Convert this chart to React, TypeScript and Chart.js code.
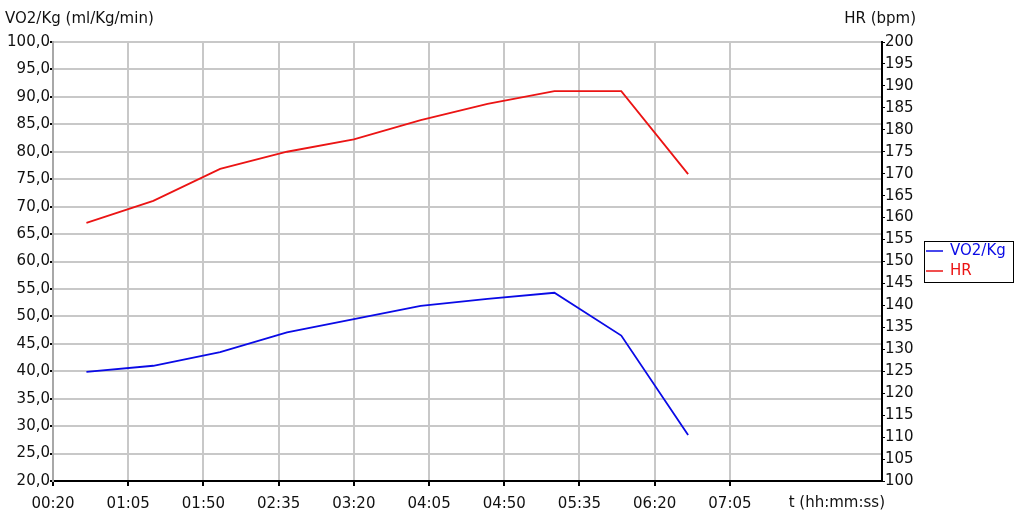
import React, { useEffect, useRef } from "react";
import { Chart, registerables } from "chart.js";

Chart.register(...registerables);

// Data (time in seconds from start)
const timeSeconds = [40, 80, 120, 160, 200, 240, 280, 320, 360, 400];
const vo2Kg = [39.9, 41.0, 43.5, 47.1, 49.5, 51.9, 53.2, 54.3, 46.5, 28.4];
const heartRate = [158.8, 163.8, 171.1, 175.0, 177.8, 182.2, 185.9, 188.8, 188.8, 169.9];
const xTickSeconds = [20, 65, 110, 155, 200, 245, 290, 335, 380, 425];
const xMin = 20;
const xMax = 516;
const seriesNames = ["VO2/Kg", "HR"];
const seriesColors = ["rgb(10,10,230)", "rgb(235,20,20)"];
const leftTitle = "VO2/Kg (ml/Kg/min)";
const rightTitle = "HR (bpm)";
const xTitle = "t (hh:mm:ss)";

const FONT = '"DejaVu Sans", Verdana, sans-serif';

const pad2 = (n: number) => String(n).padStart(2, "0");
const fmtTime = (v: number) => `${pad2(Math.floor(v / 60))}:${pad2(Math.round(v % 60))}`;

const decorPlugin = {
  id: "decor",
  afterDraw(chart: any) {
    const ctx = chart.ctx as CanvasRenderingContext2D;
    ctx.save();
    ctx.font = `15px ${FONT}`;
    ctx.fillStyle = "#111";
    ctx.textBaseline = "middle";
    ctx.textAlign = "left";
    ctx.fillText(leftTitle, 5, 19);
    ctx.textAlign = "right";
    ctx.fillText(rightTitle, 916, 19);
    ctx.fillText(xTitle, 885, 503);

    // legend
    const bx = 924, by = 241, bw = 89, bh = 41;
    ctx.fillStyle = "#fff";
    ctx.fillRect(bx, by, bw, bh);
    ctx.strokeStyle = "#000";
    ctx.lineWidth = 1;
    ctx.strokeRect(bx + 0.5, by + 0.5, bw, bh);
    const rows = [251, 271];
    seriesNames.forEach((name, i) => {
      const y = rows[i];
      ctx.strokeStyle = seriesColors[i];
      ctx.lineWidth = 1.5;
      ctx.beginPath();
      ctx.moveTo(926, y);
      ctx.lineTo(943, y);
      ctx.stroke();
      ctx.fillStyle = seriesColors[i];
      ctx.textAlign = "left";
      ctx.fillText(name, 950, y);
    });
    ctx.restore();
  },
};

export default function App() {
  const ref = useRef<HTMLCanvasElement | null>(null);
  useEffect(() => {
    document.body.style.margin = "0";
    const canvas = ref.current!;
    const chart = new Chart(canvas, {
      type: "line",
      data: {
        datasets: [
          {
            label: seriesNames[0],
            data: timeSeconds.map((t, i) => ({ x: t, y: vo2Kg[i] })),
            borderColor: seriesColors[0],
            backgroundColor: seriesColors[0],
            borderWidth: 1.8,
            pointRadius: 0,
            tension: 0,
            yAxisID: "y",
          },
          {
            label: seriesNames[1],
            data: timeSeconds.map((t, i) => ({ x: t, y: heartRate[i] })),
            borderColor: seriesColors[1],
            backgroundColor: seriesColors[1],
            borderWidth: 1.8,
            pointRadius: 0,
            tension: 0,
            yAxisID: "y1",
          },
        ],
      },
      options: {
        responsive: false,
        animation: false,
        layout: { padding: { top: 42, left: 0, right: 0, bottom: 0 } },
        plugins: {
          legend: { display: false },
          tooltip: { enabled: false },
        },
        scales: {
          x: {
            type: "linear",
            min: xMin,
            max: xMax,
            afterBuildTicks: (scale: any) => {
              scale.ticks = xTickSeconds.map((v) => ({ value: v }));
            },
            afterFit: (scale: any) => {
              scale.height = 38;
            },
            grid: { color: "#c8c8c8", lineWidth: 2, tickColor: "#000", tickLength: 5, tickWidth: 2 },
            border: { color: "#000", width: 2 },
            ticks: {
              autoSkip: false,
              maxRotation: 0,
              padding: 9,
              color: "#111",
              font: { family: FONT, size: 15 },
              callback: (v: any) => fmtTime(Number(v)),
            },
          },
          y: {
            type: "linear",
            position: "left",
            min: 20,
            max: 100,
            afterFit: (scale: any) => {
              scale.width = 53;
            },
            grid: { color: "#c8c8c8", lineWidth: 2, tickColor: "#000", tickLength: 3 },
            border: { color: "#a8a8a8", width: 2 },
            ticks: {
              stepSize: 5,
              padding: 0,
              color: "#111",
              font: { family: FONT, size: 15 },
              callback: (v: any) => Number(v).toFixed(1).replace(".", ","),
            },
          },
          y1: {
            type: "linear",
            position: "right",
            min: 100,
            max: 200,
            afterFit: (scale: any) => {
              scale.width = 142;
            },
            grid: { drawOnChartArea: false, tickColor: "#000", tickLength: 3 },
            border: { color: "#000", width: 2 },
            ticks: {
              stepSize: 5,
              padding: 0,
              color: "#111",
              font: { family: FONT, size: 15 },
            },
          },
        },
      },
      plugins: [decorPlugin],
    } as any);
    return () => chart.destroy();
  }, []);
  return <canvas ref={ref} width={1024} height={519} style={{ display: "block" }} />;
}
